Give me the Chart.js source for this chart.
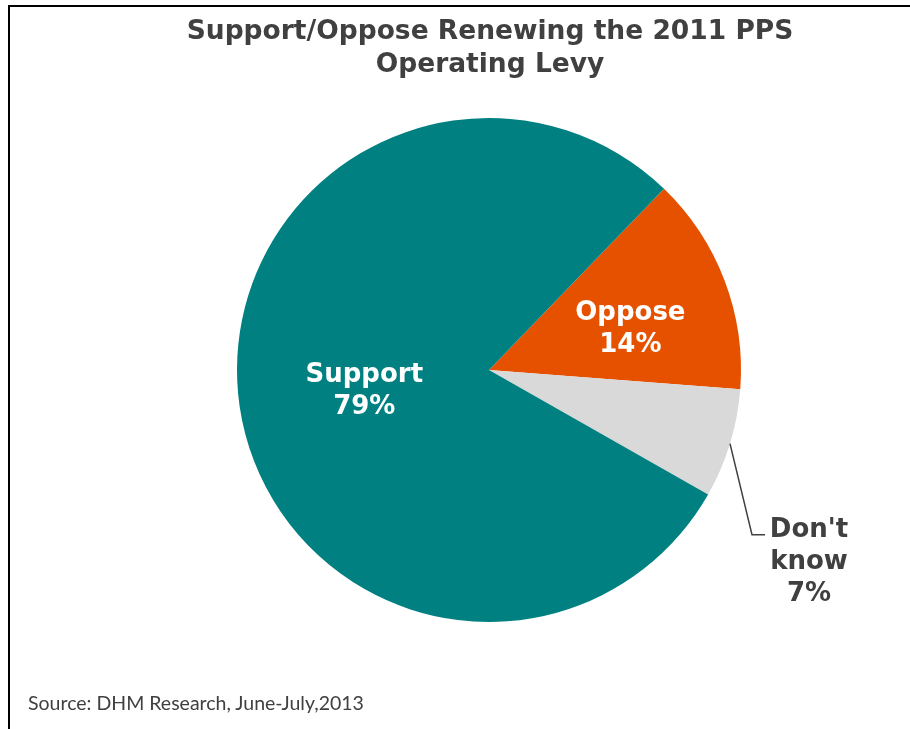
<!DOCTYPE html>
<html>
<head>
<meta charset="utf-8">
<script src="https://cdn.jsdelivr.net/npm/chart.js@4.4.1/dist/chart.umd.min.js"></script>
<style>
  html, body { margin: 0; padding: 0; background: #fff; }
  #wrap { position: relative; width: 910px; height: 729px; overflow: hidden; }
  #frame { position: absolute; left: 8px; top: 5px; width: 1000px; height: 800px;
           border-left: 2px solid #000; border-top: 2px solid #000; }
  #title { position: absolute; left: 490px; top: 13px; transform: translateX(-50%);
           white-space: nowrap; text-align: center; color: #404040;
           font: bold 26.5px "DejaVu Sans", sans-serif; line-height: 33px; }
  #source { position: absolute; left: 28px; top: 691px; color: #404040;
            font: 19.5px Lato, "Open Sans", sans-serif; white-space: nowrap; }
  canvas { position: absolute; left: 0; top: 0; }
</style>
</head>
<body>
<div id="wrap">
  <div id="frame"></div>
  <canvas id="pieChart" width="910" height="729"></canvas>
  <div id="title">Support/Oppose Renewing the 2011 PPS<br>Operating Levy</div>
  <div id="source">Source: DHM Research, June-July,2013</div>
</div>
<script>
// dados
const categories = ['Oppose', "Don't know", 'Support'];
const shares = [14, 7, 79];

// cores das fatias
const sliceColors = ['#E65100', '#D9D9D9', '#008080'];
const labelColors = ['#ffffff', '#404040', '#ffffff'];

// plugin para escrever os rótulos (dentro ou fora da fatia)
const sliceLabels = {
    id: 'sliceLabels',
    afterDatasetsDraw(chart) {
        const ctx = chart.ctx;
        const meta = chart.getDatasetMeta(0);
        ctx.save();
        ctx.font = 'bold 26px "DejaVu Sans", sans-serif';
        ctx.textAlign = 'center';
        ctx.textBaseline = 'middle';
        const lineH = 32;

        meta.data.forEach((arc, i) => {
            const p = arc.getProps(['x', 'y', 'startAngle', 'endAngle', 'outerRadius'], true);
            const mid = (p.startAngle + p.endAngle) / 2;
            const lines = categories[i].split(' ').concat([shares[i] + '%']);
            let cx, cy;

            if (i === 1) {
                // fatia pequena: rótulo fora com linha guia
                const ex = p.x + Math.cos(mid) * p.outerRadius;
                const ey = p.y + Math.sin(mid) * p.outerRadius;
                const kx = ex + 22, ky = ey + 91;
                ctx.strokeStyle = '#404040';
                ctx.lineWidth = 1.5;
                ctx.beginPath();
                ctx.moveTo(ex, ey);
                ctx.lineTo(kx, ky);
                ctx.lineTo(kx + 13, ky);
                ctx.stroke();
                cx = kx + 57;
                cy = ky - 4 + lineH;
            } else if (i === 0) {
                cx = p.x + Math.cos(mid) * p.outerRadius * 0.6;
                cy = p.y + Math.sin(mid) * p.outerRadius * 0.6 + 13;
            } else {
                cx = p.x + Math.cos(mid) * p.outerRadius * 0.5;
                cy = p.y + Math.sin(mid) * p.outerRadius * 0.5 + 3;
            }

            ctx.fillStyle = labelColors[i];
            const top = cy - (lines.length - 1) * lineH / 2;
            lines.forEach((t, j) => ctx.fillText(t, cx, top + j * lineH));
        });
        ctx.restore();
    }
};

const ctx = document.getElementById('pieChart').getContext('2d');
new Chart(ctx, {
    type: 'pie',
    data: {
        labels: categories,
        datasets: [{
            data: shares,
            backgroundColor: sliceColors,
            borderWidth: 0
        }]
    },
    options: {
        responsive: false,
        animation: false,
        rotation: 44,
        layout: {
            padding: { left: 237, right: 169, top: 118, bottom: 107 }
        },
        plugins: {
            legend: { display: false },
            tooltip: { enabled: false },
            title: { display: false }
        }
    },
    plugins: [sliceLabels]
});
</script>
</body>
</html>
